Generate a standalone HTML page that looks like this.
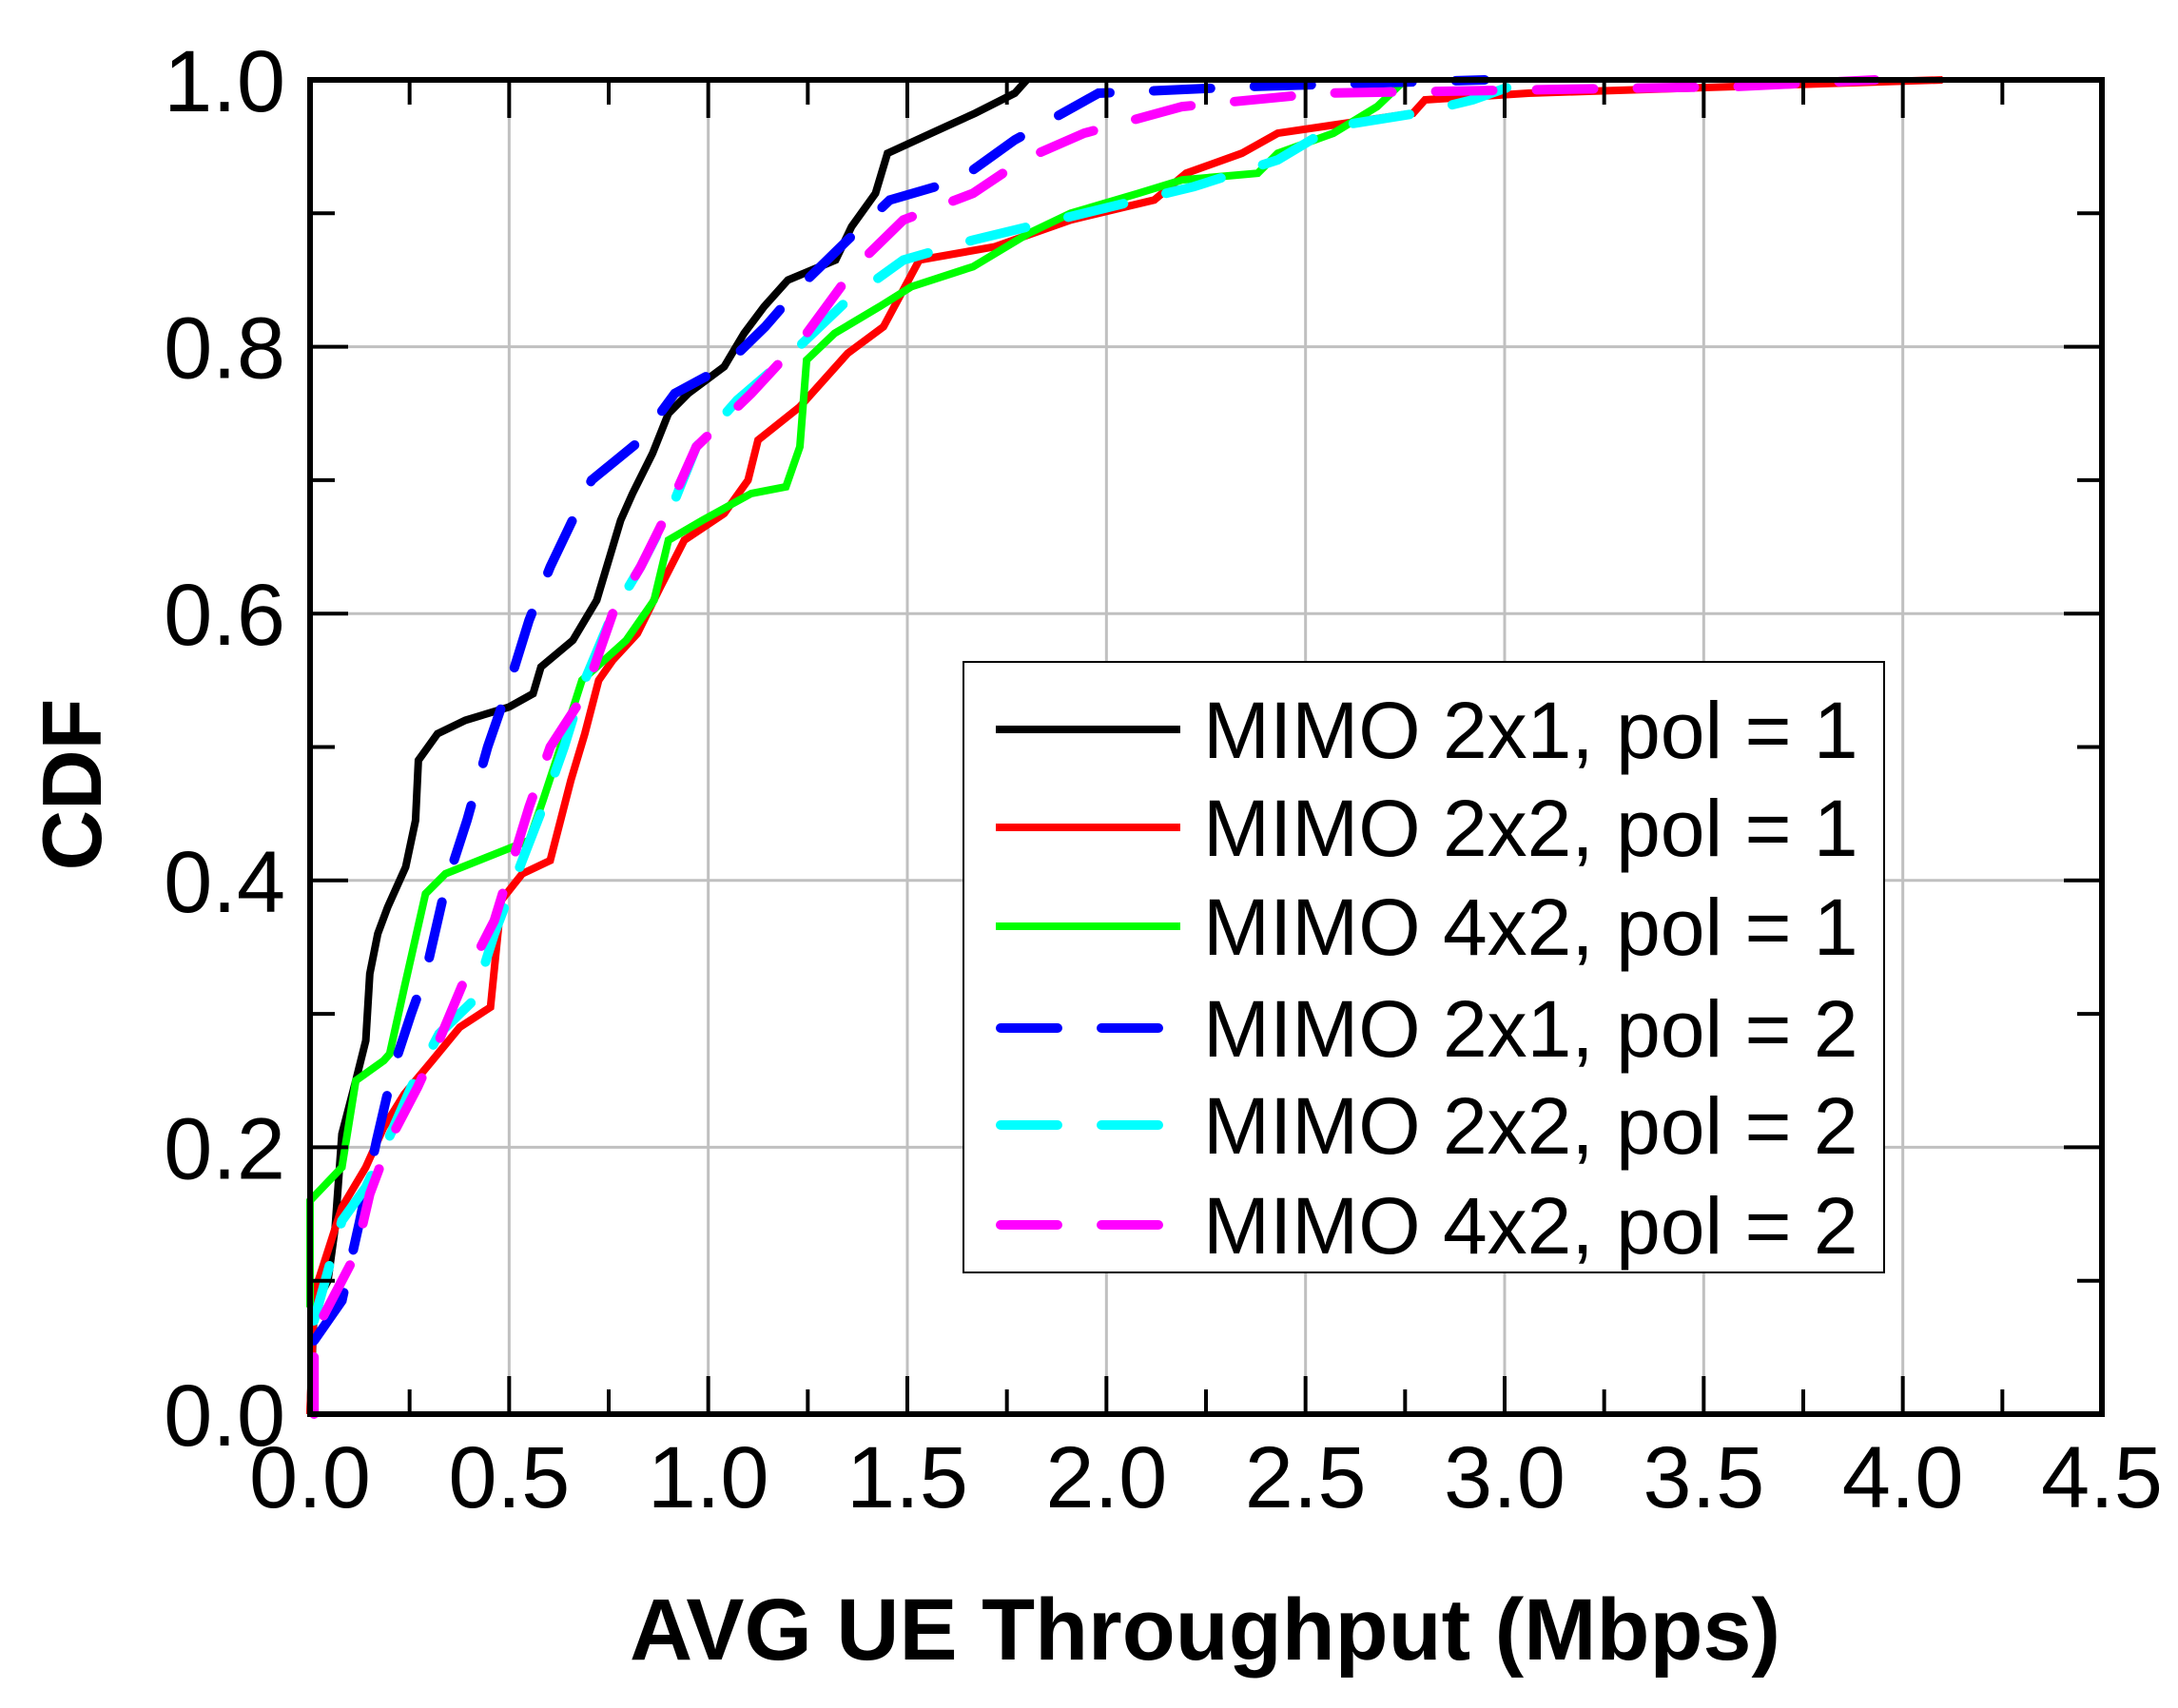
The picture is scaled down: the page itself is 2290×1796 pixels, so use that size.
<!DOCTYPE html>
<html><head><meta charset="utf-8"><style>
html,body{margin:0;padding:0;background:#fff;}
svg{display:block;}
text{font-family:"Liberation Sans",Arial,sans-serif;}
</style></head><body>
<svg id="chart" width="2290" height="1796" viewBox="0 0 2290 1796" xmlns="http://www.w3.org/2000/svg">
<rect width="2290" height="1796" fill="#fff"/>
<g id="grid"></g>
<g id="series"></g>
<g id="axes"></g>
<text x="1267" y="1745" font-size="92" font-weight="bold" text-anchor="middle" textLength="1210" lengthAdjust="spacingAndGlyphs">AVG UE Throughput (Mbps)</text>
<text x="0" y="0" font-size="88" font-weight="bold" text-anchor="middle" transform="translate(106,825) rotate(-90)">CDF</text>
<g id="legend"></g>
</svg>
<script>
const xTicks=[0,0.5,1,1.5,2,2.5,3,3.5,4,4.5];
const xTickLabels=["0.0","0.5","1.0","1.5","2.0","2.5","3.0","3.5","4.0","4.5"];
const yTicks=[0,0.2,0.4,0.6,0.8,1.0];
const yTickLabels=["0.0","0.2","0.4","0.6","0.8","1.0"];
const seriesNames=["MIMO 2x1, pol = 1","MIMO 2x2, pol = 1","MIMO 4x2, pol = 1","MIMO 2x1, pol = 2","MIMO 2x2, pol = 2","MIMO 4x2, pol = 2"];
const s21p1=[[0,0],[0.01,0.08],[0.045,0.1],[0.063,0.14],[0.08,0.21],[0.115,0.25],[0.14,0.28],[0.15,0.33],[0.17,0.36],[0.195,0.38],[0.24,0.41],[0.265,0.445],[0.272,0.49],[0.32,0.51],[0.39,0.52],[0.5,0.53],[0.56,0.54],[0.58,0.56],[0.66,0.58],[0.72,0.61],[0.75,0.64],[0.78,0.67],[0.81,0.69],[0.86,0.72],[0.9,0.75],[0.95,0.765],[1.04,0.785],[1.09,0.81],[1.14,0.83],[1.2,0.85],[1.32,0.865],[1.36,0.89],[1.42,0.915],[1.45,0.945],[1.56,0.96],[1.67,0.975],[1.77,0.99],[1.8,1.0]];
const s22p1=[[0,0],[0.01,0.09],[0.08,0.155],[0.14,0.185],[0.185,0.215],[0.237,0.24],[0.307,0.265],[0.376,0.29],[0.453,0.305],[0.48,0.385],[0.533,0.405],[0.603,0.415],[0.655,0.475],[0.69,0.51],[0.725,0.55],[0.76,0.565],[0.822,0.585],[0.88,0.62],[0.94,0.655],[1.04,0.675],[1.1,0.7],[1.125,0.73],[1.23,0.755],[1.35,0.795],[1.44,0.815],[1.53,0.865],[1.72,0.875],[1.91,0.895],[2.12,0.91],[2.2,0.93],[2.34,0.945],[2.43,0.96],[2.77,0.975],[2.8,0.985],[3.06,0.99],[4.1,1.0]];
const s42p1=[[0,0.08],[0,0.16],[0.08,0.185],[0.115,0.25],[0.185,0.265],[0.2,0.27],[0.237,0.32],[0.29,0.39],[0.34,0.405],[0.55,0.43],[0.585,0.46],[0.64,0.51],[0.683,0.55],[0.794,0.58],[0.864,0.61],[0.9,0.655],[0.986,0.67],[1.108,0.69],[1.195,0.695],[1.23,0.725],[1.247,0.79],[1.317,0.81],[1.43,0.83],[1.51,0.845],[1.665,0.86],[1.805,0.885],[1.91,0.9],[2.08,0.915],[2.19,0.925],[2.38,0.93],[2.43,0.945],[2.57,0.96],[2.68,0.98],[2.75,1.0]];
const s21p2=[[0.01,0.055],[0.08,0.085],[0.125,0.145],[0.167,0.205],[0.21,0.26],[0.254,0.3],[0.29,0.33],[0.34,0.395],[0.394,0.445],[0.446,0.5],[0.498,0.545],[0.55,0.595],[0.603,0.635],[0.707,0.7],[0.83,0.73],[0.916,0.765],[1.04,0.785],[1.143,0.815],[1.23,0.845],[1.35,0.88],[1.456,0.91],[1.63,0.925],[1.77,0.955],[1.98,0.99],[2.36,0.995],[2.95,1.0]];
const s22p2=[[0.01,0.07],[0.08,0.145],[0.14,0.17],[0.195,0.205],[0.254,0.245],[0.324,0.285],[0.41,0.31],[0.463,0.36],[0.533,0.415],[0.585,0.455],[0.638,0.5],[0.69,0.55],[0.76,0.6],[0.83,0.635],[0.916,0.685],[0.97,0.725],[1.073,0.76],[1.21,0.795],[1.35,0.835],[1.49,0.865],[1.665,0.88],[1.875,0.895],[2.08,0.91],[2.22,0.92],[2.43,0.94],[2.57,0.965],[2.78,0.975],[2.92,0.985],[3.06,1.0]];
const s42p2=[[0.01,0],[0.01,0.06],[0.045,0.08],[0.115,0.12],[0.15,0.165],[0.2,0.205],[0.27,0.245],[0.324,0.28],[0.394,0.33],[0.463,0.37],[0.55,0.455],[0.603,0.5],[0.69,0.54],[0.76,0.6],[0.83,0.635],[0.88,0.665],[0.97,0.725],[1.108,0.765],[1.247,0.81],[1.37,0.86],[1.49,0.895],[1.665,0.915],[1.79,0.94],[1.944,0.96],[2.19,0.98],[2.54,0.99],[3.58,0.995],[3.93,1.0]];
const seriesData=[s21p1,s22p1,s42p1,s21p2,s22p2,s42p2];
const colors=["#000000","#ff0000","#00ff00","#0000ff","#00ffff","#ff00ff"];
const dashed=[false,false,false,true,true,true];
const seriesKeys=["mimo-2x1-pol1","mimo-2x2-pol1","mimo-4x2-pol1","mimo-2x1-pol2","mimo-2x2-pol2","mimo-4x2-pol2"];

const L=326,R=2210,T=84,B=1487;
const xmax=4.5,ymax=1.0;
function sx(v){return L+(R-L)*v/xmax;}
function sy(v){return B-(B-T)*v/ymax;}
const NS="http://www.w3.org/2000/svg";
function mk(tag,parent,attrs){const e=document.createElementNS(NS,tag);for(const k in attrs)e.setAttribute(k,attrs[k]);parent.appendChild(e);return e;}
const grid=document.getElementById('grid'),axes=document.getElementById('axes'),ser=document.getElementById('series'),leg=document.getElementById('legend');

xTicks.forEach((v,i)=>{
  if(i>0&&i<xTicks.length-1){const g=mk('line',grid,{x1:sx(v),x2:sx(v),y1:T,y2:B,stroke:'#c0c0c0','stroke-width':3});
  
  }
  const t=mk('text',axes,{x:sx(v),y:1585,'font-size':92,'text-anchor':'middle'});
  
  
  t.textContent=xTickLabels[i];
  [B,T].forEach(yy=>{const dir=yy===B?-1:1;const tk=mk('line',axes,{x1:sx(v),x2:sx(v),y1:yy,y2:yy+dir*40,stroke:'#000','stroke-width':4});
  
  });
  if(i<xTicks.length-1){const m=v+0.25;[B,T].forEach(yy=>{const dir=yy===B?-1:1;const tk=mk('line',axes,{x1:sx(m),x2:sx(m),y1:yy,y2:yy+dir*26,stroke:'#000','stroke-width':4});
  
  });}
});
yTicks.forEach((v,i)=>{
  if(i>0&&i<yTicks.length-1){const g=mk('line',grid,{x1:L,x2:R,y1:sy(v),y2:sy(v),stroke:'#c0c0c0','stroke-width':3});
  
  }
  const t=mk('text',axes,{x:300,y:sy(v)+33,'font-size':92,'text-anchor':'end'});
  
  
  t.textContent=yTickLabels[i];
  [L,R].forEach(xx=>{const dir=xx===L?1:-1;const tk=mk('line',axes,{x1:xx,x2:xx+dir*40,y1:sy(v),y2:sy(v),stroke:'#000','stroke-width':4});
  
  });
  if(i<yTicks.length-1){const m=v+0.1;[L,R].forEach(xx=>{const dir=xx===L?1:-1;const tk=mk('line',axes,{x1:xx,x2:xx+dir*26,y1:sy(m),y2:sy(m),stroke:'#000','stroke-width':4});
  
  });}
});
const frame=mk('rect',axes,{x:L,y:T,width:R-L,height:B-T,fill:'none',stroke:'#000','stroke-width':6});



seriesData.forEach((d,i)=>{
  const pts=d.map(p=>sx(p[0]).toFixed(1)+','+sy(p[1]).toFixed(1)).join(' ');
  const a={points:pts,fill:'none',stroke:colors[i],'stroke-width':dashed[i]?10:8,'stroke-linejoin':'miter'};
  if(dashed[i]){a['stroke-dasharray']='60 46';a['stroke-linecap']='round';}
  const pl=mk('polyline',ser,a);
  
  
});

const lb=mk('rect',leg,{x:1013,y:696,width:968,height:642,fill:'#fff',stroke:'#000','stroke-width':2});


const legY=[767,870,974,1081,1183,1288];
seriesNames.forEach((n,i)=>{
  const g=mk('g',leg,{});
  
  
  const a={x1:1047,x2:1241,y1:legY[i],y2:legY[i],stroke:colors[i],'stroke-width':dashed[i]?10:8};
  if(dashed[i]){a['stroke-dasharray']='60 46';a['stroke-linecap']='round';a.x1=1052;a.x2=1236;}
  const ln=mk('line',g,a);
  
  
  const t=mk('text',g,{x:1265,y:legY[i]+30,'font-size':84});
  
  
  t.textContent=n;
});
</script>
</body></html>
